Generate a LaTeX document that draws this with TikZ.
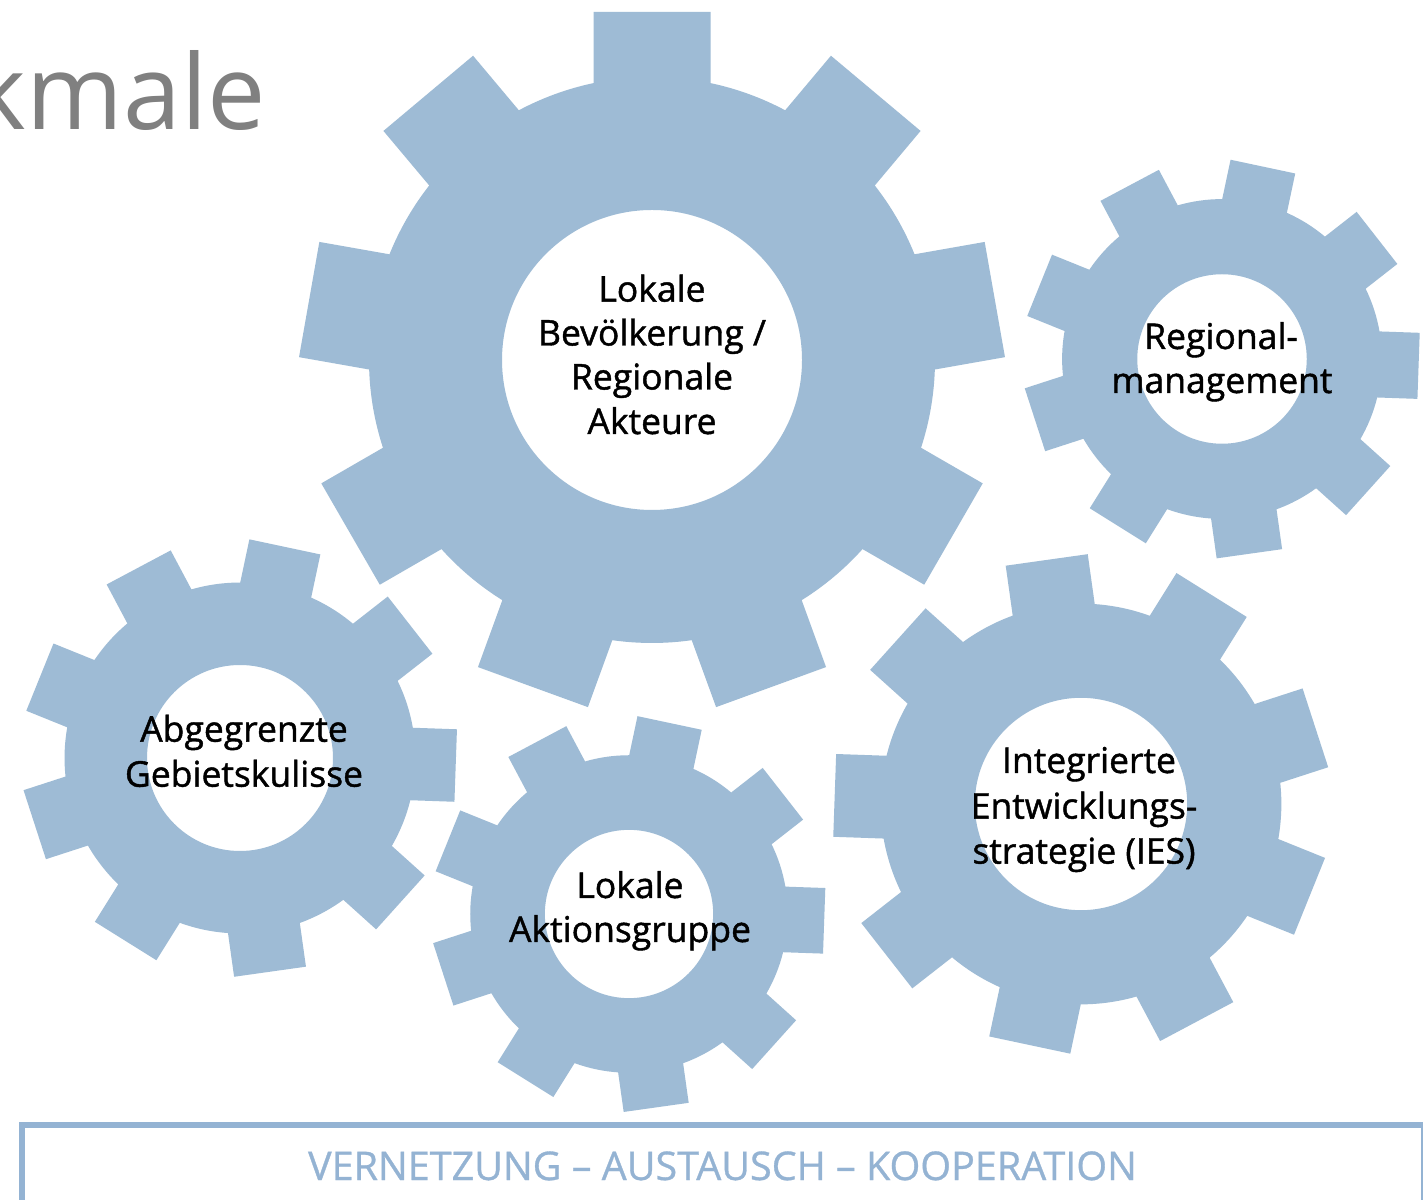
\documentclass[tikz,border=0pt]{standalone}
\usepackage{fontspec}
\setmainfont{Open Sans}
\newfontfamily\lblfont[FakeBold=1.2]{Open Sans}
\newfontfamily\mottofont[FakeBold=0.8]{Open Sans}
\definecolor{gearblue}{RGB}{158,187,213}
\definecolor{frameblue}{RGB}{148,179,211}
\definecolor{titlegray}{RGB}{128,128,128}
\newcommand\gearat[4]{%
  \begin{scope}[shift={(#1,#2)},scale=#3]
    \fill[gearblue,even odd rule] ({#4-11.93}:283)
      \foreach \k [evaluate=\k as \a using #4+40*\k] in {0,...,8}{
        -- ({\a-11.93}:283) -- ({\a-9.54}:353) -- ({\a+9.54}:353) -- ({\a+11.93}:283)
        arc[start angle={\a+11.93}, end angle={\a+28.07}, radius=283]}
      -- cycle (0,0) circle[radius=150];
  \end{scope}}
\begin{document}
\begin{tikzpicture}[x=1pt,y=1pt,
  lbl/.style={anchor=base, inner sep=0, text=black, font=\lblfont\fontsize{35.5}{44}\selectfont}]
\useasboundingbox (0,0) rectangle (1423,1199);
\fill[white] (0,0) rectangle (1423,1199);

% title fragment
\node[anchor=base east, inner sep=0, text=titlegray, font=\fontsize{104}{120}\selectfont] (title) at (266,1069) {kmale};

% gears
\gearat{652}{839}{1}{10}
\gearat{1222}{840}{0.565}{-2}
\gearat{240}{441}{0.62}{-2}
\gearat{629}{285}{0.561}{-2}
\gearat{1081}{395}{0.708}{18}

% labels
\node[lbl] (big1) at (652,897.4) {Lokale};
\node[lbl] (big2) at (652,853.5) {Bevölkerung /};
\node[lbl] (big3) at (652,809.5) {Regionale};
\node[lbl] (big4) at (652,765) {Akteure};

\node[lbl] (reg1) at (1221,850) {Regional-};
\node[lbl] (reg2) at (1222,806) {management};

\node[lbl] (geb1) at (244,457.3) {Abgegrenzte};
\node[lbl] (geb2) at (244,412.3) {Gebietskulisse};

\node[lbl] (lag1) at (630,301) {Lokale};
\node[lbl] (lag2) at (630,257) {Aktionsgruppe};

\node[lbl] (ies1) at (1089,426) {Integrierte};
\node[lbl] (ies2) at (1084,380.4) {Entwicklungs-};
\node[lbl] (ies3) at (1084,335.4) {strategie (IES)};

% bottom frame
\draw[frameblue, line width=6] (22,-40) -- (22,74) -- (1424,74) -- (1424,-40);
\node[anchor=base, inner sep=0, text=frameblue, font=\mottofont\fontsize{39.5}{44}\selectfont] (motto) at (722.5,19) {VERNETZUNG – AUSTAUSCH – KOOPERATION};
\end{tikzpicture}
\end{document}
